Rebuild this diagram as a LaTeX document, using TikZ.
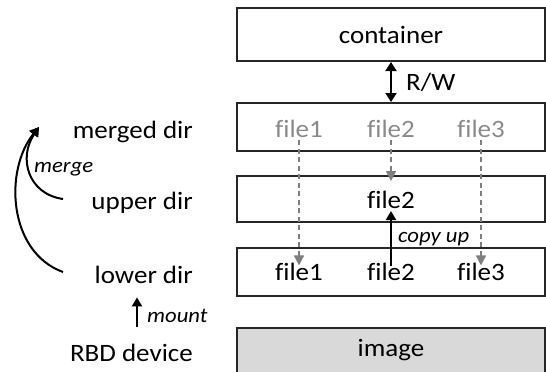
\documentclass[tikz,border=0pt]{standalone}
\usepackage{fontspec}
\setmainfont[FakeStretch=1.08,Ligatures={NoCommon}]{Carlito}
\usetikzlibrary{arrows.meta}
\definecolor{boxline}{RGB}{38,38,38}
\definecolor{dimtext}{RGB}{138,138,138}
\definecolor{dasharr}{RGB}{127,127,127}
\definecolor{imgfill}{RGB}{217,217,217}
\begin{document}
\begin{tikzpicture}[x=1pt,y=-1pt,
  layerbox/.style={draw=boxline,line width=2pt,rectangle,minimum width=308pt,inner sep=0pt},
  lbl/.style={font=\fontsize{25}{29}\selectfont,inner sep=0pt,anchor=base},
  dimlbl/.style={lbl,text=dimtext},
  sidelbl/.style={font=\fontsize{25}{29}\selectfont,inner sep=0pt,anchor=base east},
  itlbl/.style={font=\fontsize{21}{25}\selectfont\itshape,inner sep=0pt,anchor=base west},
  blackarr/.style={line width=2pt,-{Triangle[width=10pt,length=9pt]}},
  dasharrow/.style={draw=dasharr,line width=1.5pt,dash pattern=on 5pt off 3.5pt,-{Triangle[width=10pt,length=10pt,fill=dasharr]}}
]
\clip (0,0) rectangle (546,372);
\useasboundingbox (0,0) rectangle (546,372);

% boxes
\node[layerbox,minimum height=53pt] (container) at (391,34.5) {};
\node[layerbox,minimum height=48pt] (merged) at (391,127) {};
\node[layerbox,minimum height=46pt] (upper) at (391,199) {};
\node[layerbox,minimum height=48pt] (lower) at (391,272) {};
\node[layerbox,minimum height=60pt,fill=imgfill] (image) at (391,357.5) {};

% box texts
\node[lbl] (ctext) at (391,43) {container};
\node[dimlbl] (mf1) at (299,137) {file1};
\node[dimlbl] (mf2) at (391,137) {file2};
\node[dimlbl] (mf3) at (481,137) {file3};
\node[lbl] (uf2) at (391,208) {file2};
\node[lbl] (lf1) at (299,280) {file1};
\node[lbl] (lf2) at (391,280) {file2};
\node[lbl] (lf3) at (481,280) {file3};
\node[lbl] (imtext) at (391,356) {image};

% R/W
\draw[line width=2pt,{Triangle[width=11pt,length=9pt]}-{Triangle[width=11pt,length=9pt]}] (container.south) -- (merged.north);
\node[font=\fontsize{25}{29}\selectfont,inner sep=0pt,anchor=base west] (rw) at (406,90) {R/W};

% dashed arrows
\draw[dasharrow,shorten <=3pt,shorten >=-3pt] (mf1.south) -- (lf1.north);
\draw[dasharrow,shorten <=3pt,shorten >=-6pt] (mf2.south) -- (upper.north);
\draw[dasharrow,shorten <=3pt,shorten >=-3pt] (mf3.south) -- (lf3.north);

% copy up
\draw[blackarr,shorten <=-4pt,shorten >=3pt] (lf2.north) -- (uf2.base);
\node[itlbl] (copyup) at (398,242) {copy up};

% left side labels
\node[sidelbl] (mergeddir) at (193,138) {merged dir};
\node[sidelbl] (upperdir) at (193,209) {upper dir};
\node[sidelbl] (lowerdir) at (193,283) {lower dir};
\node[sidelbl] (rbd) at (193,361) {RBD device};

% mount
\draw[blackarr,shorten <=16pt,shorten >=14pt] (rbd.north -| 137,0) -- (lowerdir.south -| 137,0);
\node[itlbl] (mount) at (147,322) {mount};

% merge arrows
\coordinate (mtip) at (39,127);
\coordinate (ustart) at (63,199);
\coordinate (lstart) at (63,272);
\draw[blackarr] (ustart) .. controls (28,194) and (18,158) .. (mtip);
\draw[blackarr] (lstart) .. controls (8,252) and (4,170) .. (mtip);
\node[itlbl] (merge) at (34,172) {merge};
\end{tikzpicture}
\end{document}
